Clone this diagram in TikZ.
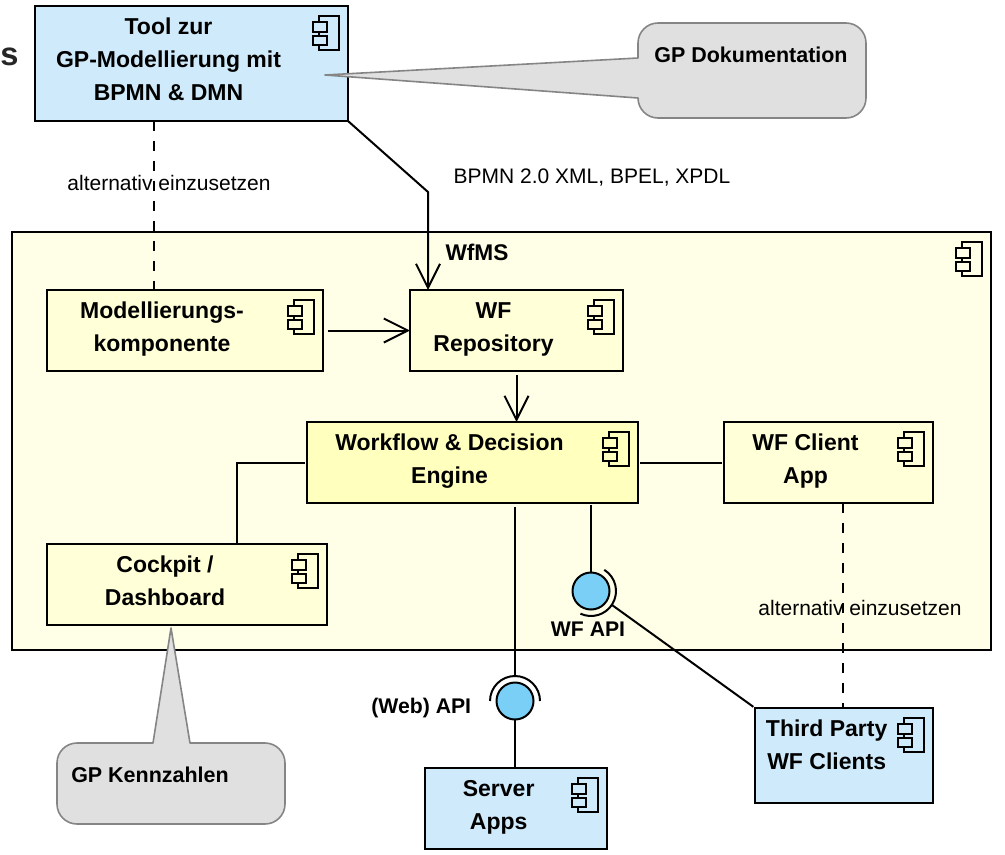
\documentclass[tikz,border=0pt]{standalone}
\usepackage{fontspec}
\usepackage{xcolor}
\usepackage{tikz}
\usetikzlibrary{arrows.meta, positioning}
\setmainfont{Liberation Sans}
\definecolor{ToolBlue}{HTML}{CFEBFB}
\definecolor{WfmsCream}{HTML}{FFFFE8}
\definecolor{WfYellow}{HTML}{FFFFD8}
\definecolor{EngineYellow}{HTML}{FFFFBE}
\definecolor{ApiBlue}{HTML}{7ACFF6}
\definecolor{NoteFill}{HTML}{E0E0E0}
\definecolor{NoteFrame}{HTML}{858585}
\newcommand{\comptext}[3][2.5pt]{\begin{tabular}{@{}c@{}}#3\\[#1]\end{tabular}\rule{#2}{0pt}}
\tikzset{
  boxsize/.style 2 args={minimum width=#1, minimum height=#2},
  compnode/.style={draw=black, rectangle, line width=1.5pt, inner sep=0pt, outer sep=0pt,
                   font=\fontsize{17.25}{24.75}\selectfont\bfseries},
  toolnode/.style={compnode, fill=ToolBlue},
  wfnode/.style={compnode, fill=WfYellow},
  enginenode/.style={compnode, fill=EngineYellow},
  wfmsnode/.style={draw=black, rectangle, line width=1.5pt, outer sep=0pt, fill=WfmsCream},
  apicircle/.style={draw=black, circle, line width=1.5pt, fill=ApiBlue, minimum size=27.75pt,
                    inner sep=0pt, outer sep=0pt},
  notepath/.style={draw=NoteFrame, fill=NoteFill, line width=1.2pt, line join=round},
  notetext/.style={font=\fontsize{16.1}{19}\selectfont\bfseries},
  apilabel/.style={font=\fontsize{15.9}{19}\selectfont\bfseries},
  edgelabel/.style={font=\fontsize{15.75}{19}\selectfont},
  lineplain/.style={line width=1.5pt, draw=black},
  arrowstd/.style={-{Straight Barb[length=18pt, width=18pt, line width=1.5pt]}, lineplain},
  linedash/.style={lineplain, dash pattern=on 7.5pt off 7.5pt},
  pics/compicon/.style={code={
    \draw[line width=1pt] (-29,10) rectangle (-9,44);
    \draw[line width=1pt, fill=#1] (-35,16) rectangle (-21,26);
    \draw[line width=1pt, fill=#1] (-35,30) rectangle (-21,39);
  }}
}
\begin{document}
\begin{tikzpicture}[x=0.75pt, y=-0.75pt]
  \useasboundingbox (0,0) rectangle (1005,854);

  \node[font=\fontsize{24.5}{29}\selectfont\bfseries, text=black!85, anchor=base west, inner sep=0pt] (cutoff) at (0,65) {s};

  \node[toolnode, boxsize={234.75pt}{86.25pt}, anchor=north west] (tool) at (35,6)
    {\comptext[4.5pt]{34.5pt}{Tool zur\\GP-Modellierung mit\\BPMN \& DMN}};
  \node[wfmsnode, boxsize={734.25pt}{313.5pt}, anchor=north west] (wfms) at (12,232) {};
  \node[font=\fontsize{17}{20}\selectfont\bfseries] (wfmslabel) at (477,252) {WfMS};

  \node[wfnode, boxsize={207pt}{60.75pt}, below right=43.5pt and 26.25pt of wfms.north west] (modell)
    {\comptext{34.5pt}{Modellierungs-\\komponente}};
  \node[wfnode, boxsize={159.75pt}{60.75pt}, right=65.25pt of modell] (repo)
    {\comptext{34.5pt}{WF\\Repository}};
  \node[enginenode, boxsize={248.25pt}{60.75pt}, below right=38.25pt and -77.25pt of repo.south west] (engine)
    {\comptext{34.5pt}{Workflow \& Decision\\Engine}};
  \node[wfnode, boxsize={156.75pt}{60.75pt}, right=64.5pt of engine] (client)
    {\comptext{34.5pt}{WF Client\\App}};
  \node[wfnode, boxsize={210pt}{60.75pt}, below right=129.75pt and 0pt of modell.south west] (cockpit)
    {\comptext{33pt}{Cockpit /\\Dashboard}};
  \node[toolnode, boxsize={136.5pt}{60.75pt}, below right=198.75pt and 88.5pt of engine.south west] (server)
    {\comptext{26pt}{Server\\Apps}};
  \node[toolnode, boxsize={133.5pt}{71.25pt}, below right=153.75pt and 23.25pt of client.south west] (third)
    {\comptext[14pt]{26pt}{Third Party\\WF Clients}};

  \foreach \name/\tone in {tool/ToolBlue, wfms/WfmsCream, modell/WfYellow, repo/WfYellow,
                           engine/EngineYellow, client/WfYellow, cockpit/WfYellow,
                           server/ToolBlue, third/ToolBlue}
    \pic at (\name.north east) {compicon=\tone};

  \node[apicircle] (wfapi) at (591,591) {};
  \node[apicircle] (webapi) at (515,701) {};
  \node[apilabel, below=6pt of wfapi, xshift=-2.25pt] (wfapilabel) {WF API};
  \node[apilabel, left=15.5pt of webapi, yshift=-5.25pt] (webapilabel) {(Web) API};
  \draw[lineplain] (webapi.center) ++(180:18.75pt) arc[start angle=180, end angle=0, radius=18.75pt];
  \draw[lineplain] (wfapi.center) ++(58:18.75pt) arc[start angle=58, end angle=-115, radius=18.75pt];
  \coordinate (webtop) at (515,676);
  \coordinate (wfsocket) at (612,605);
  \coordinate (bpmnbend) at (428,192);

  \draw[linedash] ([xshift=89.25pt]tool.south west) -- node[edgelabel, pos=.367, xshift=11.25pt] (altleft) {alternativ einzusetzen} ([xshift=80.25pt]modell.north west);
  \draw[linedash] ([xshift=89.25pt]client.south west) -- node[edgelabel, pos=.51, xshift=12.75pt] (altright) {alternativ einzusetzen} ([xshift=66pt]third.north west);

  \draw[arrowstd] (tool.south east) -- (bpmnbend) -- ([xshift=13.5pt]repo.north west);
  \node[edgelabel, anchor=west] (formats) at (449,178) {BPMN 2.0 XML, BPEL, XPDL};
  \draw[arrowstd, shorten <=3.5pt] (modell) -- (repo);
  \draw[arrowstd, shorten <=3pt] (repo.south) -- (repo.south |- engine.north);
  \draw[lineplain, shorten <=1.5pt, shorten >=1.5pt] (engine) -- (client);
  \draw[lineplain, shorten <=1.5pt] (engine.west) -| ([xshift=142.5pt]cockpit.north west);
  \draw[lineplain, shorten >=3pt] (webtop) -- (webtop |- engine.south);
  \draw[lineplain] (webapi) -- (server.north -| webapi);
  \draw[lineplain, shorten >=1.5pt] (wfapi) -- (wfapi |- engine.south);
  \draw[lineplain, shorten >=1.5pt] (wfsocket) -- (third.north west);

  \draw[notepath] (638,58) [rounded corners=15pt] -- (638,23) -- (866,23) -- (866,118) -- (638,118) [sharp corners] -- (638,98) -- (325,75) -- cycle;
  \node[notetext] (gpdoc) at (751,55) {GP Dokumentation};
  \draw[notepath] (153,743) [rounded corners=15pt] -- (57,743) -- (57,824) -- (285,824) -- (285,743) [sharp corners] -- (190,743) -- (171,628) -- cycle;
  \node[notetext] (gpkpi) at (150,775) {GP Kennzahlen};
\end{tikzpicture}
\end{document}
